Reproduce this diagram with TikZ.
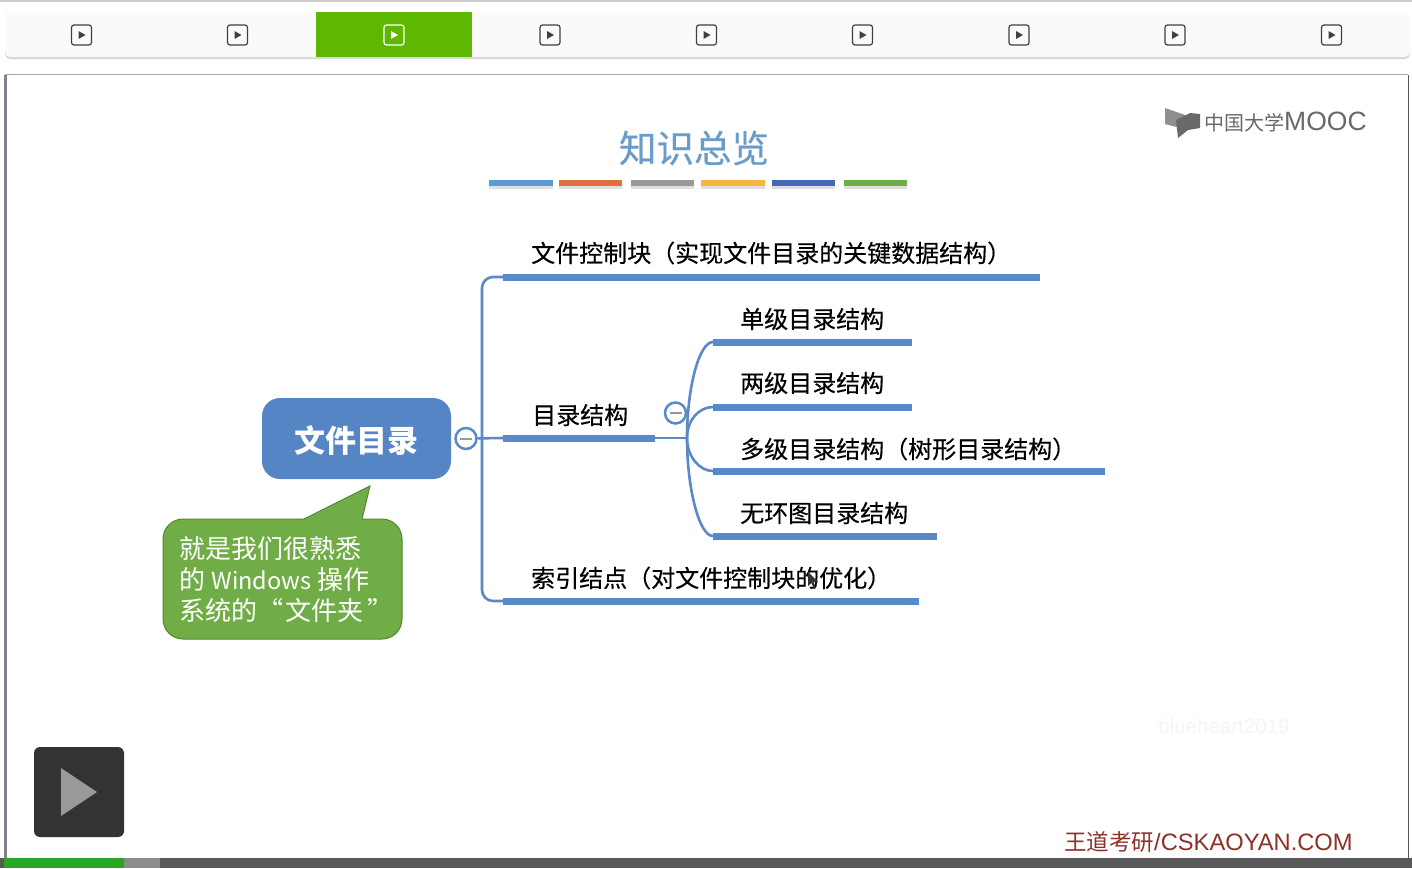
\documentclass[tikz,border=0pt]{standalone}
\usepackage{xcolor}
\usepackage{fontspec}
\setmainfont{Noto Sans CJK SC}
\newfontfamily\latinfont{Liberation Sans}
\newfontfamily\boldishfont[FakeBold=0.35]{Noto Sans CJK SC}
\definecolor{MindBlue}{RGB}{85,133,197}
\definecolor{LineBlue}{RGB}{88,138,200}
\definecolor{NoteGreen}{RGB}{112,173,71}
\definecolor{NoteEdge}{RGB}{84,135,50}
\definecolor{TitleBlue}{RGB}{106,155,201}
\definecolor{BrandRed}{RGB}{143,48,40}
\definecolor{TabGreen}{RGB}{94,184,0}
\definecolor{LogoGray}{RGB}{105,105,105}
\definecolor{RuleBlue}{RGB}{91,155,213}
\definecolor{RuleOrange}{RGB}{224,112,63}
\definecolor{RuleGray}{RGB}{153,153,153}
\definecolor{RuleYellow}{RGB}{245,181,63}
\definecolor{RuleNavy}{RGB}{68,104,181}
\definecolor{RuleGreen}{RGB}{112,173,71}
\tikzset{
    itembar/.style={fill=LineBlue, rectangle, inner sep=0pt, minimum height=7pt, anchor=west},
    itemtext/.style={inner sep=0pt, anchor=west, text=black, font=\boldishfont\fontsize{24}{24}\selectfont},
    notetext/.style={inner sep=0pt, anchor=west, text=white, font=\fontsize{26}{26}\selectfont},
    minusbtn/.style={draw=LineBlue, fill=white, circle, line width=2.5pt, inner sep=0pt, minimum size=21pt},
    branch/.style={draw=LineBlue, line width=2.6pt},
    tabicon/.style={draw=#1, rounded corners=2.5pt, line width=1.2pt, rectangle, inner sep=0pt, minimum size=20pt}
}

\begin{document}
\begin{tikzpicture}[x=1pt, y=-1pt]
    \useasboundingbox (0,0) rectangle (1412,868);
    \fill[white] (0,0) rectangle (1412,868);
    \fill[black!20] (0,0) rectangle (1412,1.5);

    \fill[black!16, rounded corners=5pt] (5,14) rectangle (1410,59);
    \fill[black!2, rounded corners=5pt] (5,12) rectangle (1410,57);
    \fill[TabGreen] (316,12) rectangle (472,57);
    \foreach \x/\n/\c in {81.5/1/black!75, 237.5/2/black!75, 394/3/white, 550/4/black!75, 706.5/5/black!75, 862.5/6/black!75, 1019/7/black!75, 1175/8/black!75, 1331.5/9/black!75} {
        \node (Tab\n) [tabicon=\c] at (\x,35) {};
        \fill[\c] (\x-3,31) -- (\x-3,39) -- (\x+4,35) -- cycle;
    }

    \fill[black!35] (5,74) rectangle (1408,75);
    \fill[blue!15!black!50] (4,75) rectangle (7,858);
    \fill[black!65] (1408,75) rectangle (1409,858);

    \node (Title) [inner sep=0pt, text=TitleBlue, font=\boldishfont\fontsize{37.5}{37.5}\selectfont] at (694,148) {知识总览};
    \foreach \a/\b/\c in {489/553/RuleBlue, 559/622/RuleOrange, 631/694/RuleGray, 701/765/RuleYellow, 772/835/RuleNavy, 844/907/RuleGreen} {
        \fill[black!12] (\a,183) rectangle (\b,189);
        \fill[\c] (\a,180) rectangle (\b,186);
    }

    \fill[LogoGray!75] (1165,108) -- (1185,115) -- (1185,129) -- (1165,124) -- cycle;
    \fill[LogoGray] (1176,120) -- (1190,113) -- (1200,114) -- (1200,128) -- (1188,130) -- (1178,138) -- cycle;
    \node (LogoText) [inner sep=0pt, anchor=west, text=LogoGray, font=\fontsize{20}{20}\selectfont] at (1204,122) {中国大学{\latinfont\fontsize{26.5}{26.5}\selectfont MOOC}};

    \node (Root) [rectangle, rounded corners=18pt, fill=MindBlue, minimum width=189pt, minimum height=81pt, text=white, text height=32pt, text depth=3.6pt, font=\fontsize{31}{31}\selectfont\bfseries] at (356.5,438.5) {文件目录};

    \node (FileBar) [itembar, minimum width=537pt] at (503,277) {};
    \node (DirBar) [itembar, minimum width=152pt] at (503,438) {};
    \node (IndexBar) [itembar, minimum width=416pt] at (503,601) {};
    \node (SingleBar) [itembar, minimum width=199pt] at (713,342) {};
    \node (TwoBar) [itembar, minimum width=199pt] at (713,407) {};
    \node (MultiBar) [itembar, minimum width=392pt] at (713,471) {};
    \node (AcyclicBar) [itembar, minimum width=224pt] at (713,536) {};

    \node (FileText) [itemtext, xshift=28pt, yshift=24pt] at (FileBar.west) {文件控制块（实现文件目录的关键数据结构）};
    \node (DirText) [itemtext, xshift=29pt, yshift=23pt] at (DirBar.west) {目录结构};
    \node (IndexText) [itemtext, xshift=28pt, yshift=23pt] at (IndexBar.west) {索引结点（对文件控制块的优化）};
    \node (SingleText) [itemtext, xshift=27pt, yshift=23pt] at (SingleBar.west) {单级目录结构};
    \node (TwoText) [itemtext, xshift=27pt, yshift=24pt] at (TwoBar.west) {两级目录结构};
    \node (MultiText) [itemtext, xshift=27pt, yshift=22pt] at (MultiBar.west) {多级目录结构（树形目录结构）};
    \node (AcyclicText) [itemtext, xshift=27pt, yshift=23pt] at (AcyclicBar.west) {无环图目录结构};

    \coordinate (RootFork) at (482,438);
    \coordinate (DirFork) at (687,438);
    \node (RootMinus) [minusbtn] at (466,438.5) {};
    \node (DirMinus) [minusbtn] at (675.5,413) {};
    \fill[black!40] (460,437.5) rectangle (472,439.5);
    \fill[black!40] (669.5,412) rectangle (681.5,414);

    \draw[branch] (RootMinus) -- (DirBar.west);
    \draw[branch, rounded corners=11pt] (RootFork) |- (FileBar.west);
    \draw[branch, rounded corners=11pt] (RootFork) |- (IndexBar.west);
    \draw[branch] (DirBar.east) -- (DirFork);
    \draw[branch] (DirFork) .. controls +(0,-50) and +(-14,0) .. (SingleBar.west);
    \draw[branch] (DirFork) .. controls +(0,-18) and +(-14,0) .. (TwoBar.west);
    \draw[branch] (DirFork) .. controls +(0,18) and +(-14,0) .. (MultiBar.west);
    \draw[branch] (DirFork) .. controls +(0,50) and +(-14,0) .. (AcyclicBar.west);

    \fill[black!80] (808,572) -- (808,586) -- (811.5,583) -- (814,589) -- (816,588) -- (813.5,582) -- (818,582) -- cycle;

    \node (Note) [rectangle, rounded corners=20pt, draw=NoteEdge, fill=NoteGreen, line width=1pt, minimum width=239pt, minimum height=120pt] at (282.5,579) {};
    \fill[NoteGreen] (303,520) -- (370,486) -- (362,520) -- cycle;
    \draw[NoteEdge, line width=1pt] (304,519) -- (370,486) -- (362,519);
    \node (NoteOne) [notetext] at (179.5,549) {就是我们很熟悉};
    \node (NoteTwo) [notetext] at (179.5,580) {的 {\fontsize{23.5}{23.5}\selectfont Windows} 操作};
    \node (NoteThree) [notetext] at (179.5,611) {系统的“\hspace{2pt}文件夹\hspace{4pt}”};

    \node (Mark) [inner sep=0pt, text=black!4, font=\latinfont\fontsize{20.5}{20.5}\selectfont] at (1224,726) {blueheart2019};
    \node (Brand) [inner sep=0pt, anchor=west, text=BrandRed, font=\fontsize{22.5}{22.5}\selectfont] at (1064,842) {王道考研{\latinfont\fontsize{23.7}{23.7}\selectfont /CSKAOYAN.COM}};

    \node (PlayBox) [rectangle, rounded corners=6pt, fill=black!80, minimum size=90pt] at (79,792) {};
    \fill[black!40] (61,768) -- (97,792) -- (61,816) -- cycle;

    \fill[black!65] (0,858) rectangle (1412,868);
    \fill[black!45] (124,858) rectangle (160,868);
    \fill[green!60!black!85] (4,858) rectangle (124,868);
\end{tikzpicture}
\end{document}
